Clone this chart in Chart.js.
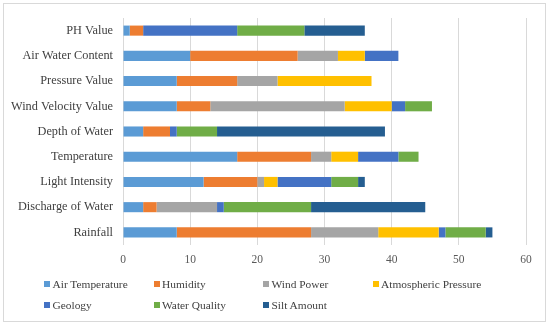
<!DOCTYPE html>
<html>
<head>
<meta charset="utf-8">
<script src="https://cdn.jsdelivr.net/npm/chart.js@4/dist/chart.umd.min.js"></script>
<style>
  html, body { margin: 0; padding: 0; background: #fff; }
  #wrap { position: relative; width: 550px; height: 325px; overflow: hidden; }
  #frame { position: absolute; left: 3px; top: 3px; width: 541px; height: 317px; border: 1px solid #D9D9D9; pointer-events: none; }
  #c { position: absolute; left: 0; top: 0; }
  #legend { position: absolute; left: 44px; top: 276px; display: grid; grid-template-columns: 109.5px 109.5px 109.5px 130px; row-gap: 5px;
            font-family: "Liberation Serif", "Times New Roman", serif; font-size: 11.4px; color: #404040; }
  .item { display: flex; align-items: center; height: 16px; white-space: nowrap; }
  .sw { width: 6px; height: 6px; margin-right: 2.5px; margin-left: 0px; }
</style>
</head>
<body>
<div id="wrap">
  <canvas id="c" width="550" height="325"></canvas>
  <div id="legend"></div>
  <div id="frame"></div>
</div>
<script>
const categories = ["PH Value", "Air Water Content", "Pressure Value", "Wind Velocity Value", "Depth of Water", "Temperature", "Light Intensity", "Discharge of Water", "Rainfall"];
const seriesNames = ["Air Temperature", "Humidity", "Wind Power", "Atmospheric Pressure", "Geology", "Water Quality", "Silt Amount"];
const airTemperature     = [1, 10, 8, 8, 3, 17, 12, 3, 8];
const humidity           = [2, 16, 9, 5, 4, 11, 8, 2, 20];
const windPower          = [0, 6, 6, 20, 0, 3, 1, 9, 10];
const atmosphericPressure= [0, 4, 14, 7, 0, 4, 2, 0, 9];
const geology            = [14, 5, 0, 2, 1, 6, 8, 1, 1];
const waterQuality       = [10, 0, 0, 4, 6, 3, 4, 13, 6];
const siltAmount         = [9, 0, 0, 0, 25, 0, 1, 17, 1];
const xTicks = [0, 10, 20, 30, 40, 50, 60];

const colors = ["#5B9BD5", "#ED7D31", "#A5A5A5", "#FFC000", "#4472C4", "#70AD47", "#255E91"];
const seriesData = [airTemperature, humidity, windPower, atmosphericPressure, geology, waterQuality, siltAmount];

const datasets = seriesNames.map((n, i) => ({
  label: n,
  data: seriesData[i],
  backgroundColor: colors[i],
  borderWidth: 0,
  barPercentage: 0.4,
  categoryPercentage: 1.0
}));

const chart = new Chart(document.getElementById('c'), {
  type: 'bar',
  data: { labels: categories, datasets },
  options: {
    indexAxis: 'y',
    responsive: false,
    animation: false,
    layout: { padding: { top: 18, right: 24, left: 0, bottom: 0 } },
    plugins: { legend: { display: false }, tooltip: { enabled: false } },
    scales: {
      x: {
        stacked: true,
        min: 0, max: 60,
        afterBuildTicks: (s) => { s.ticks = xTicks.map(v => ({ value: v })); },
        afterFit: (s) => { s.height = 80; },
        grid: { color: "#D9D9D9", lineWidth: 1, drawTicks: false },
        border: { display: false },
        ticks: { padding: 8, color: "#595959", font: { family: "Liberation Serif", size: 11.5 } }
      },
      y: {
        stacked: true,
        afterFit: (s) => { s.width = 123; },
        grid: { display: false, drawTicks: false },
        border: { display: false },
        ticks: { padding: 10, color: "#404040", font: { family: "Liberation Serif", size: 12.3 } }
      }
    }
  }
});

const lg = document.getElementById('legend');
seriesNames.forEach((n, i) => {
  const d = document.createElement('div');
  d.className = 'item';
  d.innerHTML = '<span class="sw" style="background:' + colors[i] + '"></span><span>' + n + '</span>';
  lg.appendChild(d);
});
</script>
</body>
</html>
